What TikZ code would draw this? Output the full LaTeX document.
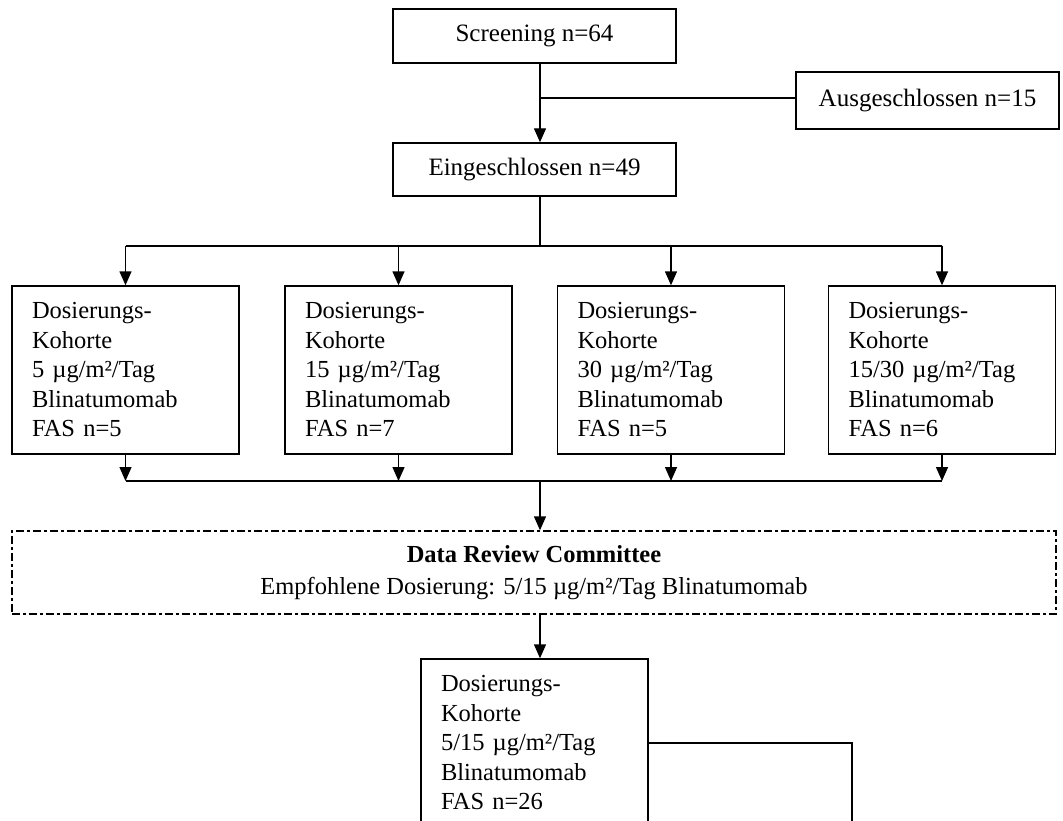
\documentclass[tikz,border=0pt]{standalone}
\usepackage{fontspec}
\setmainfont{Liberation Serif}
\usetikzlibrary{arrows.meta}
\tikzset{
  box/.style={draw, line width=1.4pt, inner sep=0pt, font=\fontsize{25}{30}\selectfont},
  cbox/.style={draw, line width=1.4pt, inner xsep=20pt, inner ysep=0pt, text width=187pt,
    minimum height=168pt, align=left, font=\fontsize{24.5}{29.5}\selectfont},
  dbox/.style={draw, line width=1.4pt, dash pattern=on 8pt off 3pt on 3pt off 3pt,
    inner sep=0pt, minimum width=1044pt, minimum height=83pt, align=center,
    font=\fontsize{24.5}{32}\selectfont},
  ln/.style={line width=1.4pt},
  arr/.style={line width=1.4pt, -{Triangle[length=14pt,width=12pt]}}
}
\begin{document}
\begin{tikzpicture}[x=1pt,y=-1pt]
\useasboundingbox (0,0) rectangle (1063,821);
\clip (0,0) rectangle (1063,821);
\node[box, minimum width=283pt, minimum height=54pt] (scr) at (534.5,36) {Screening n=64};
\node[box, minimum width=263pt, minimum height=57pt] (aus) at (927.5,100.5) {Ausgeschlossen n=15};
\node[box, minimum width=283pt, minimum height=53pt] (ein) at (534.5,169.5) {Eingeschlossen n=49};

\node[cbox] (c1) at (125.5,370) {Dosierungs-\\Kohorte\\5 µg/m²/Tag\\Blinatumomab\\FAS n=5};
\node[cbox] (c2) at (398.5,370) {Dosierungs-\\Kohorte\\15 µg/m²/Tag\\Blinatumomab\\FAS n=7};
\node[cbox] (c3) at (671,370) {Dosierungs-\\Kohorte\\30 µg/m²/Tag\\Blinatumomab\\FAS n=5};
\node[cbox] (c4) at (942,370) {Dosierungs-\\Kohorte\\15/30 µg/m²/Tag\\Blinatumomab\\FAS n=6};

\node[dbox] (drc) at (534,572.5) {\textbf{Data Review Committee}\\Empfohlene Dosierung: 5/15 µg/m²/Tag Blinatumomab};

\node[cbox] (fin) at (534.5,743) {Dosierungs-\\Kohorte\\5/15 µg/m²/Tag\\Blinatumomab\\FAS n=26};

\coordinate (j1) at (540,98);
\coordinate (r1) at (540,246);
\coordinate (r2) at (540,481);
\coordinate (e1) at (852,830);

\draw[arr] (scr.south -| j1) -- (ein.north -| j1);
\draw[ln] (j1) -- (j1 -| aus.west);
\draw[ln] (ein.south -| r1) -- (r1);
\draw[ln] (c1.north |- r1) -- (c4.north |- r1);
\foreach \c in {c1,c2,c3,c4} {
  \draw[arr] (\c.north |- r1) -- (\c.north);
  \draw[arr] (\c.south) -- (\c.south |- r2);
}
\draw[ln] (c1.south |- r2) -- (c4.south |- r2);
\draw[arr] (r2) -- (drc.north -| r2);
\draw[arr] (drc.south -| r2) -- (fin.north -| r2);
\draw[ln] (fin.east) -| (e1);
\end{tikzpicture}
\end{document}
